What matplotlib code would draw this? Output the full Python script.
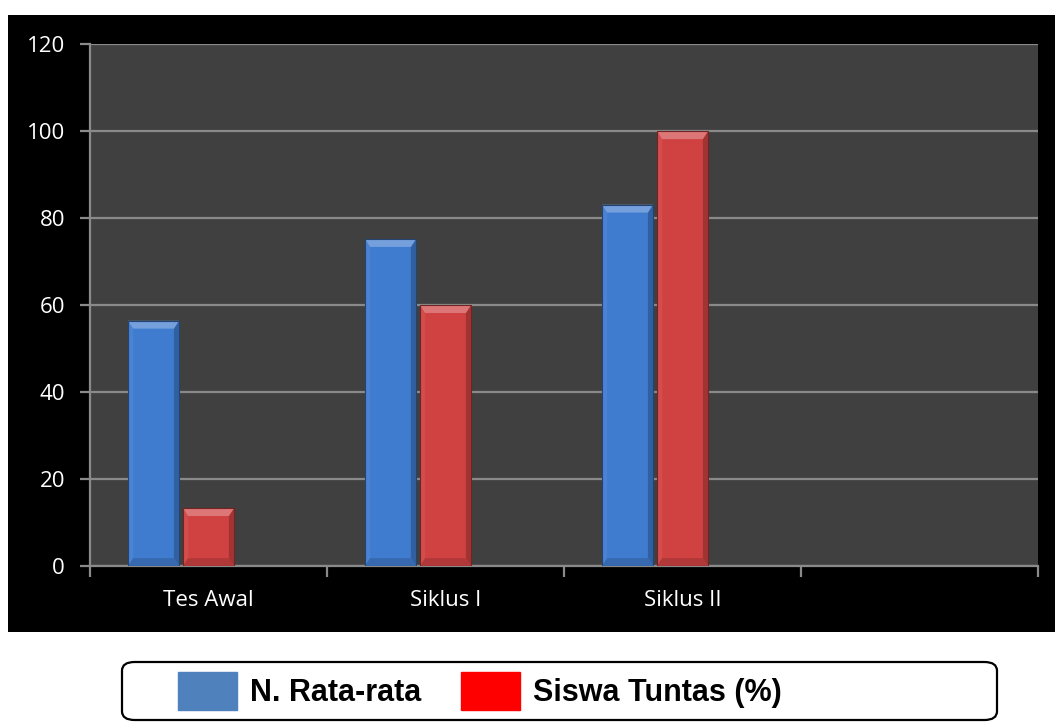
import numpy as np
import matplotlib.pyplot as plt
from matplotlib.patches import Rectangle, Polygon, FancyBboxPatch, Patch
from matplotlib.colors import to_rgb

# Data
categories = ['Tes Awal', 'Siklus I', 'Siklus II', '']
rata_rata = [56.4, 75.2, 83.1]
tuntas = [13.3, 60, 100]
series_names = ['N. Rata-rata', 'Siswa Tuntas (%)']

W, H = 1055, 722
fig = plt.figure(figsize=(W / 100, H / 100), dpi=100)
fig.patch.set_facecolor('white')

# black chart area behind the axes
fig.patches.append(Rectangle((8 / W, (H - 632) / H), 1 - 8 / W, (632 - 15) / H,
                             transform=fig.transFigure, facecolor='black',
                             edgecolor='none', zorder=-5))

ax = fig.add_axes([90 / W, (H - 566) / H, (1038 - 90) / W, (566 - 44.3) / H])
ax.set_zorder(2)
ax.set_facecolor('#404040')
ax.set_xlim(-0.5, 3.5)
ax.set_ylim(0, 120)

grid_c = '#8a8a8a'
ax.set_yticks(np.arange(0, 121, 20))
ax.yaxis.grid(True, color=grid_c, linewidth=1.6)
ax.set_axisbelow(True)
for s in ['top', 'right']:
    ax.spines[s].set_visible(False)
for s in ['left', 'bottom']:
    ax.spines[s].set_color(grid_c)
    ax.spines[s].set_linewidth(1.6)

ax.set_xticks(np.arange(-0.5, 3.6, 1))
ax.set_xticklabels([])
ax.set_xticks(np.arange(len(categories)), minor=True)
ax.set_xticklabels(categories, minor=True)
ax.tick_params(axis='x', which='major', length=8, width=1.6, color=grid_c)
ax.tick_params(axis='x', which='minor', length=0, pad=17, labelsize=16,
               labelcolor='white')
ax.tick_params(axis='y', length=7, width=1.6, color=grid_c, pad=11,
               labelsize=16, labelcolor='white')
for lab in ax.get_xticklabels(minor=True) + ax.get_yticklabels():
    lab.set_fontfamily('Open Sans')


def shade(c, f):
    r = np.array(to_rgb(c))
    if f > 0:
        return tuple(r + (1 - r) * f)
    return tuple(r * (1 + f))


def bevel_bar(ax, xc, h, w, color):
    x0, x1 = xc - w / 2, xc + w / 2
    bx = w * 0.1
    by = 1.8
    ax.add_patch(Rectangle((x0, 0), w, h, facecolor=color, edgecolor='none', zorder=2))
    # left and right edges
    ax.add_patch(Polygon([(x0, 0), (x0 + bx, by), (x0 + bx, h - by), (x0, h)],
                         facecolor=shade(color, 0.06), edgecolor='none', zorder=3))
    ax.add_patch(Polygon([(x1, 0), (x1 - bx, by), (x1 - bx, h - by), (x1, h)],
                         facecolor=shade(color, -0.22), edgecolor='none', zorder=3))
    # top bevel
    ax.add_patch(Polygon([(x0, h), (x1, h), (x1 - bx, h - by), (x0 + bx, h - by)],
                         facecolor=shade(color, 0.28), edgecolor='none', zorder=3))
    # bottom bevel
    ax.add_patch(Polygon([(x0, 0), (x1, 0), (x1 - bx, by), (x0 + bx, by)],
                         facecolor=shade(color, -0.15), edgecolor='none', zorder=3))
    # thin dark outline
    ax.add_patch(Rectangle((x0, 0), w, h, facecolor='none',
                           edgecolor=shade(color, -0.45), linewidth=0.8, zorder=4))


blue = '#3f7bcf'
red = '#d04242'
bw = 0.215
step = 0.232
for i, (a, b) in enumerate(zip(rata_rata, tuntas)):
    bevel_bar(ax, i - step, a, bw, blue)
    bevel_bar(ax, i, b, bw, red)

# legend
fig.patches.append(FancyBboxPatch((122 / W, (H - 720) / H), (997 - 122) / W, 58 / H,
                                  boxstyle='round,pad=0,rounding_size=0.012',
                                  transform=fig.transFigure, facecolor='white',
                                  edgecolor='black', linewidth=1.6, zorder=-4))
handles = [Patch(facecolor='#4f81bd', edgecolor='#4f81bd'),
           Patch(facecolor='#ff0000', edgecolor='#ff0000')]
fig.legend(handles, series_names, loc='center left',
           bbox_to_anchor=(163 / W, (H - 691) / H), ncol=2, frameon=False,
           prop={'family': 'Liberation Sans', 'weight': 'bold', 'size': 22},
           handlelength=1.93, handleheight=1.58, handletextpad=0.42,
           columnspacing=1.3, borderpad=0)

fig.savefig('out.png', dpi=100)
